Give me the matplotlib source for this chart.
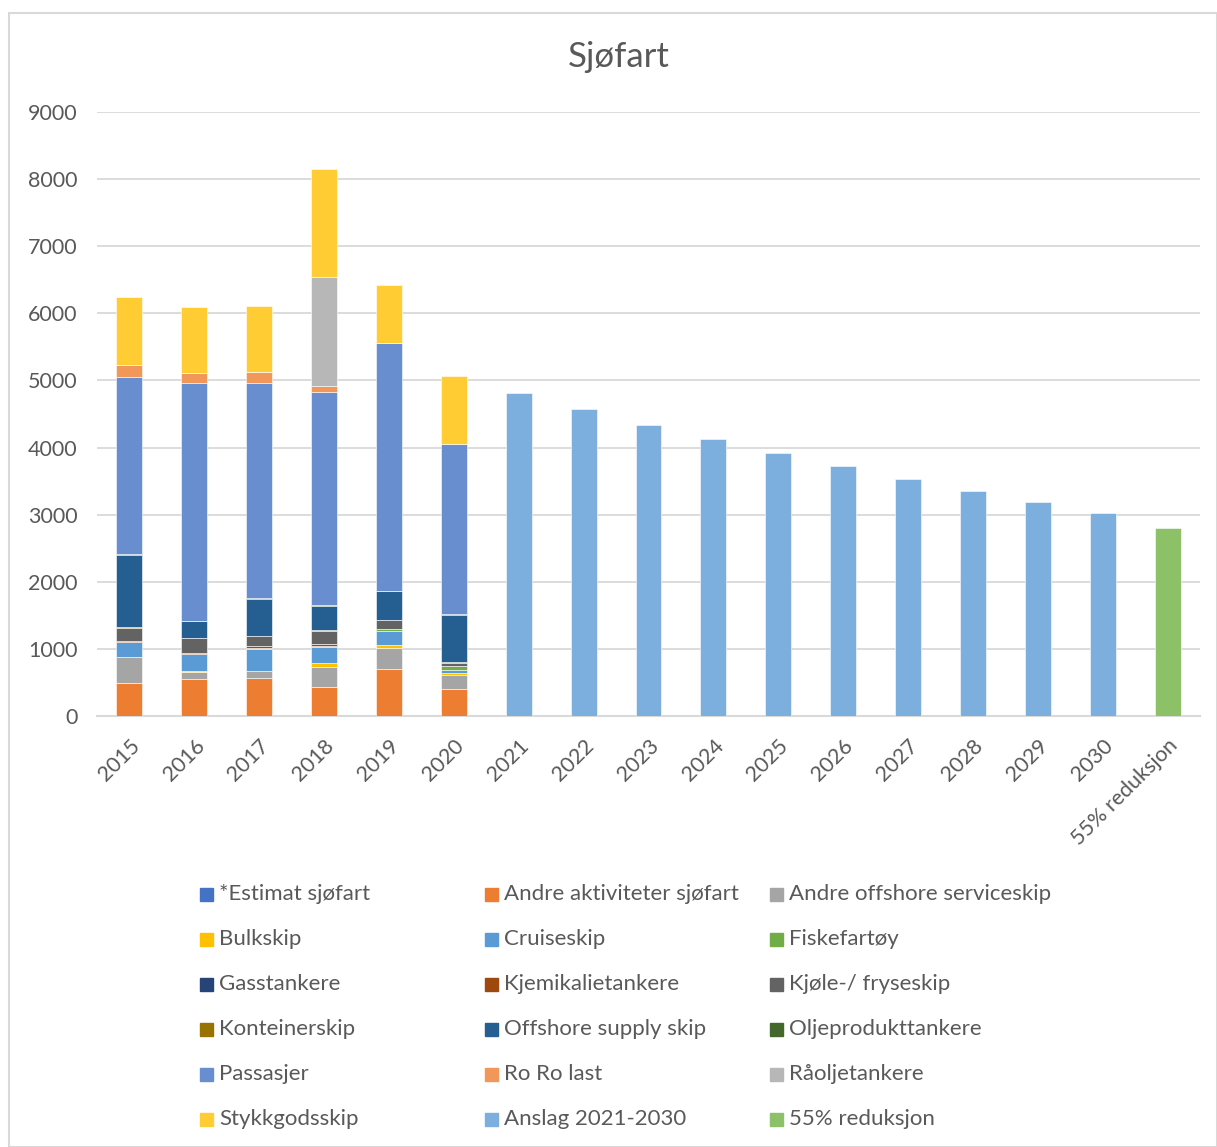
import matplotlib.pyplot as plt
import numpy as np
from matplotlib.patches import Rectangle

plt.rcParams['font.family'] = ['Lato', 'DejaVu Sans']

categories = ['2015', '2016', '2017', '2018', '2019', '2020', '2021', '2022', '2023',
              '2024', '2025', '2026', '2027', '2028', '2029', '2030', '55% reduksjon']

# historic series, 2015-2020
estimat = [0, 0, 0, 0, 0, 0]
andre_aktiviteter = [490, 545, 560, 430, 705, 395]
andre_offshore = [385, 115, 105, 305, 310, 220]
bulkskip = [10, 5, 10, 50, 50, 30]
cruiseskip = [215, 255, 320, 240, 200, 45]
fiskefartoy = [10, 5, 25, 15, 25, 50]
gasstankere = [0, 0, 0, 0, 0, 0]
kjemikalie = [5, 10, 25, 30, 10, 10]
kjole = [200, 220, 140, 195, 125, 45]
konteiner = [5, 5, 5, 10, 5, 5]
offshore_supply = [1080, 250, 560, 370, 430, 710]
oljeprodukt = [20, 10, 10, 10, 10, 15]
passasjer = [2630, 3535, 3205, 3180, 3690, 2530]
roro = [180, 150, 160, 85, 0, 0]
raolje = [0, 0, 0, 1615, 0, 0]
stykkgods = [1010, 995, 990, 1615, 860, 1015]

# projections
anslag = [4815, 4575, 4340, 4130, 3920, 3725, 3535, 3355, 3190, 3030]
reduksjon = [2800]

series = [
    ('*Estimat sjøfart', estimat, '#4472C4'),
    ('Andre aktiviteter sjøfart', andre_aktiviteter, '#ED7D31'),
    ('Andre offshore serviceskip', andre_offshore, '#A5A5A5'),
    ('Bulkskip', bulkskip, '#FFC000'),
    ('Cruiseskip', cruiseskip, '#5B9BD5'),
    ('Fiskefartøy', fiskefartoy, '#70AD47'),
    ('Gasstankere', gasstankere, '#264478'),
    ('Kjemikalietankere', kjemikalie, '#9E480E'),
    ('Kjøle-/ fryseskip', kjole, '#636363'),
    ('Konteinerskip', konteiner, '#997300'),
    ('Offshore supply skip', offshore_supply, '#255E91'),
    ('Oljeprodukttankere', oljeprodukt, '#43682B'),
    ('Passasjer', passasjer, '#698ED0'),
    ('Ro Ro last', roro, '#F1975A'),
    ('Råoljetankere', raolje, '#B7B7B7'),
    ('Stykkgodsskip', stykkgods, '#FFCD33'),
]

text_col = '#595959'
grid_col = '#D9D9D9'

fig = plt.figure(figsize=(12.17, 11.47), dpi=100)
ax = fig.add_axes([97 / 1217, 1 - 716 / 1147, 1103 / 1217, 604 / 1147])

x = np.arange(len(categories))
w = 0.4
hist_x = x[:6]
bottom = np.zeros(6)
for name, vals, col in series:
    ax.bar(hist_x, vals, w, bottom=bottom, color=col, edgecolor='white', linewidth=0.4, zorder=3)
    bottom += np.array(vals)

ax.bar(x[6:16], anslag, w, color='#7CAFDD', edgecolor='white', linewidth=0.4, zorder=3)
ax.bar(x[16:], reduksjon, w, color='#8CC168', edgecolor='white', linewidth=0.4, zorder=3)

ax.set_xlim(-0.5, len(categories) - 0.5)
ax.set_ylim(0, 9000)
ax.set_yticks(range(0, 9001, 1000))
ax.yaxis.grid(True, color=grid_col, linewidth=1.3, zorder=0)
ax.set_axisbelow(True)
for s in ['top', 'right', 'left']:
    ax.spines[s].set_visible(False)
ax.spines['bottom'].set_color(grid_col)
ax.spines['bottom'].set_linewidth(1.5)
ax.tick_params(axis='both', length=0, colors=text_col, labelsize=15.5)
ax.tick_params(axis='y', pad=14)
ax.set_xticks(x)
ax.set_xticklabels(categories, rotation=45, ha='right', va='top', rotation_mode='anchor')
ax.tick_params(axis='x', pad=14)

fig.text(619 / 1217, 1 - 57 / 1147, 'Sjøfart', ha='center', va='center', fontsize=25, color=text_col)

# legend laid out in rows of three, like the source
legend_items = [(n, c) for n, _, c in series] + [('Anslag 2021-2030', '#7CAFDD'), ('55% reduksjon', '#8CC168')]
for i, (name, col) in enumerate(legend_items):
    r, c = divmod(i, 3)
    cx = 206 + 285 * c
    cy = 894 + 45 * r
    fig.patches.append(Rectangle(((cx - 6.5) / 1217, 1 - (cy + 6.5) / 1147), 13 / 1217, 13 / 1147,
                                 transform=fig.transFigure, color=col))
    fig.text((cx + 13) / 1217, 1 - cy / 1147, name, ha='left', va='center', fontsize=16, color=text_col)

# chart border
fig.patches.append(Rectangle((9 / 1217, 0), 1 - 9 / 1217, 1 - 13 / 1147, transform=fig.transFigure,
                             fill=False, edgecolor=grid_col, linewidth=1.5))

fig.savefig('out.png', dpi=100)
